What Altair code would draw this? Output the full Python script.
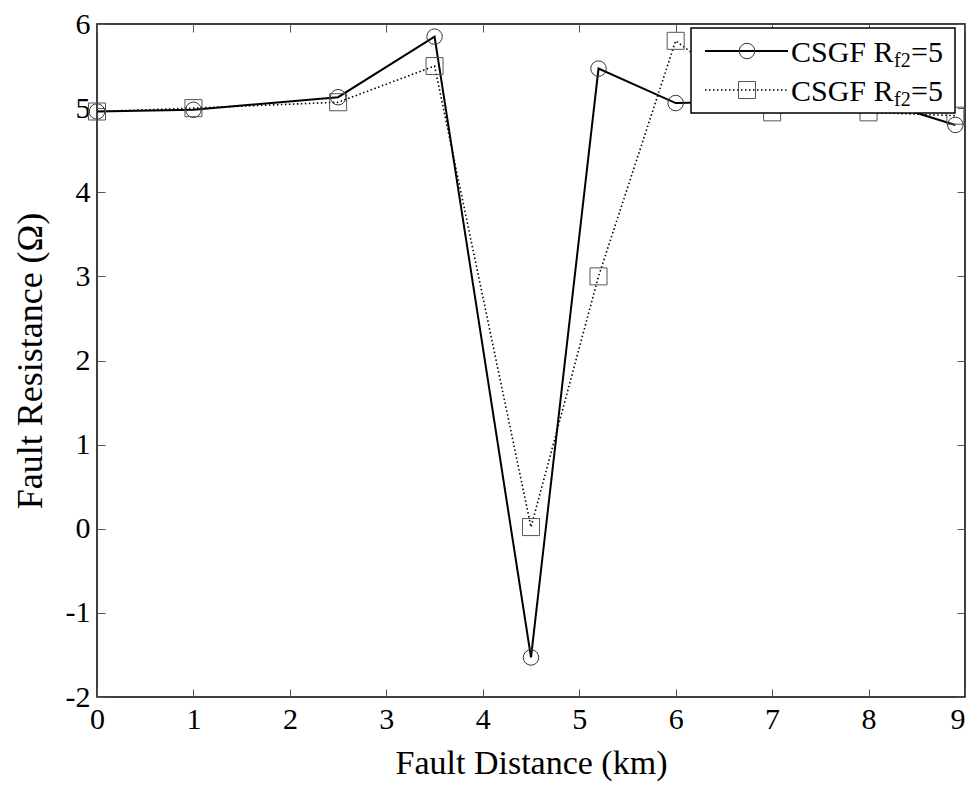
import altair as alt
import pandas as pd

# Data
x_km = [0, 1, 2.5, 3.5, 4.5, 5.2, 6, 7, 8, 8.9]
csgf_circle = [4.96, 4.98, 5.13, 5.85, -1.53, 5.47, 5.06, 5.08, 5.12, 4.80]
csgf_square = [4.96, 5.00, 5.07, 5.50, 0.02, 3.00, 5.80, 4.95, 4.95, 4.91]
x_ticks = list(range(0, 10))
y_ticks = list(range(-2, 7))
legend_label_main = "CSGF R"
legend_label_sub = "f2"
legend_label_tail = "=5"

df = pd.DataFrame({"x": x_km, "circle": csgf_circle, "square": csgf_square})
one = pd.DataFrame({"k": [0]})

FONT = "Liberation Serif"
W, H = 868, 673
TOP = 16  # svg padding above plot

xs = alt.Scale(domain=[0, 9], nice=False, zero=False)
ys = alt.Scale(domain=[-2, 6], nice=False, zero=False)

tick_base = dict(grid=False, domain=False, tickSize=8, offset=-8, tickColor="#555555", tickWidth=1)
label_style = dict(labelFont=FONT, labelFontSize=30, labelColor="black", labelFlush=False,
                   labelOverlap=False, titleFont=FONT, titleFontWeight="normal",
                   titleColor="black", labelExpr="datum.value < 0 ? '-' + abs(datum.value) : datum.label")

x_bottom = alt.Axis(values=x_ticks, orient="bottom", title="Fault Distance (km)",
                    labelPadding=7, titleY=74, titleBaseline="middle", titleAnchor="middle",
                    titleFontSize=34,
                    labelAlign={"condition": {"test": "datum.value == 9", "value": "right"}, "value": "center"},
                    **tick_base, **label_style)
y_left = alt.Axis(values=y_ticks, orient="left", title="Fault Resistance (Ω)",
                  labelPadding=7, titleX=-75, titleY=H / 2, titleBaseline="middle",
                  titleAngle=270, titleAnchor="middle", titleAlign="center", titleFontSize=36,
                  **tick_base, **label_style)
x_top = alt.Axis(values=x_ticks, orient="top", title=None, labels=False, **tick_base)
y_right = alt.Axis(values=y_ticks, orient="right", title=None, labels=False, **tick_base)

base = alt.Chart(df)

axes_layer = base.mark_point(opacity=0).encode(
    x=alt.X("x:Q", scale=xs, axis=x_bottom),
    y=alt.Y("circle:Q", scale=ys, axis=y_left),
)
frame_layer = base.mark_point(opacity=0).encode(
    x=alt.X("x:Q", scale=xs, axis=x_top),
    y=alt.Y("circle:Q", scale=ys, axis=y_right),
)

line1 = base.mark_line(color="black", strokeWidth=2).encode(
    x=alt.X("x:Q", scale=xs, axis=None), y=alt.Y("circle:Q", scale=ys, axis=None))
pts1 = base.mark_point(shape="circle", filled=False, size=240, stroke="#333333",
                       strokeWidth=1, opacity=1).encode(
    x=alt.X("x:Q", scale=xs, axis=None), y=alt.Y("circle:Q", scale=ys, axis=None))
line2 = base.mark_line(color="black", strokeWidth=1.6, strokeDash=[1.5, 2.5]).encode(
    x=alt.X("x:Q", scale=xs, axis=None), y=alt.Y("square:Q", scale=ys, axis=None))
pts2 = base.mark_point(shape="square", filled=False, size=290, stroke="#555555",
                       strokeWidth=1, opacity=1).encode(
    x=alt.X("x:Q", scale=xs, axis=None), y=alt.Y("square:Q", scale=ys, axis=None))

# Legend (custom, to allow subscript text); positions in plot pixels
PT = 8 + TOP  # page y of plot top
LX0, LX1, LY0, LY1 = 594, 858, 28 - PT, 113 - PT
R1, R2 = 51 - PT, 90 - PT
leg_box = alt.Chart(one).mark_rect(fill="white", stroke="black", strokeWidth=1.5).encode(
    x=alt.value(LX0), x2=alt.value(LX1), y=alt.value(LY0), y2=alt.value(LY1))
leg_l1 = alt.Chart(one).mark_rule(color="black", strokeWidth=2).encode(
    x=alt.value(608), x2=alt.value(691), y=alt.value(R1))
leg_l2 = alt.Chart(one).mark_rule(color="black", strokeWidth=1.6, strokeDash=[1.5, 2.5]).encode(
    x=alt.value(608), x2=alt.value(691), y=alt.value(R2))
leg_p1 = alt.Chart(one).mark_point(shape="circle", filled=False, size=240, stroke="#333333",
                                   strokeWidth=1, opacity=1).encode(
    x=alt.value(650), y=alt.value(R1))
leg_p2 = alt.Chart(one).mark_point(shape="square", filled=False, size=290, stroke="#555555",
                                   strokeWidth=1, opacity=1).encode(
    x=alt.value(650), y=alt.value(R2))

def leg_text(txt, x, y, size):
    return alt.Chart(one).mark_text(text=txt, font=FONT, fontSize=size, color="black",
                                    align="left", baseline="middle").encode(
        x=alt.value(x), y=alt.value(y))

legend_layers = []
for ry in (R1, R2):
    legend_layers += [
        leg_text(legend_label_main, 694, ry + 2, 30),
        leg_text(legend_label_sub, 797, ry + 10, 20),
        leg_text(legend_label_tail, 814, ry + 2, 30),
    ]

chart = alt.layer(
    axes_layer, frame_layer, line1, pts1, line2, pts2,
    leg_box, leg_l1, leg_l2, leg_p1, leg_p2, *legend_layers
).resolve_axis(x="independent", y="independent").properties(
    width=W, height=H,
    autosize=alt.AutoSizeParams(type="none"),
    padding={"left": 89, "top": TOP, "right": 2, "bottom": 87},
    background="white",
).configure_view(stroke="black", strokeWidth=1.5)

chart.save("out.html", embed_options={"renderer": "svg", "actions": False})
